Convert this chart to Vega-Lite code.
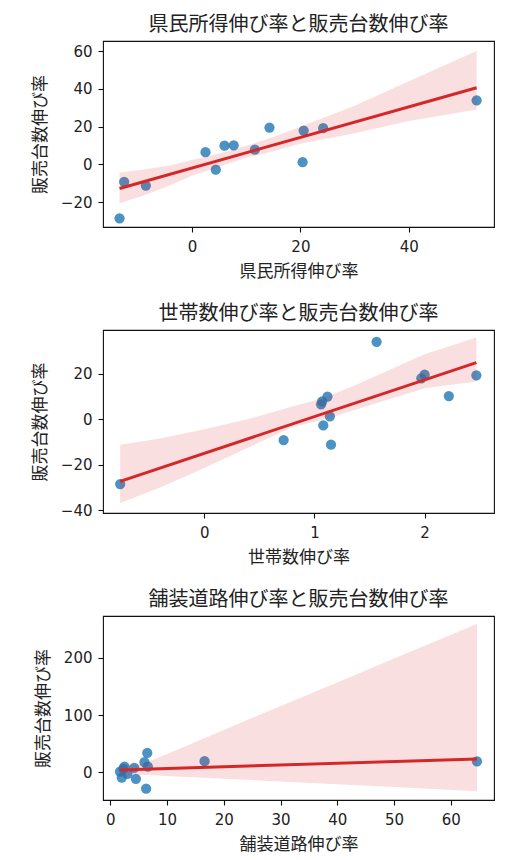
{
  "$schema": "https://vega.github.io/schema/vega-lite/v6.json",
  "padding": {"left": 30, "top": 14, "right": 5, "bottom": 5},
  "background": "white",
  "datasets": {
    "pts": [
      {"income": -13.35, "households": -0.764, "roads": 6.3, "sales": -28.5},
      {"income": 52.5, "households": 1.564, "roads": 6.5, "sales": 33.9},
      {"income": -12.5, "households": 0.72, "roads": 2.0, "sales": -9.2},
      {"income": -8.5, "households": 1.15, "roads": 4.5, "sales": -11.2},
      {"income": 2.5, "households": 1.06, "roads": 2.3, "sales": 6.5},
      {"income": 4.4, "households": 1.08, "roads": 3.0, "sales": -2.8},
      {"income": 6.0, "households": 1.118, "roads": 6.6, "sales": 9.9},
      {"income": 7.7, "households": 2.22, "roads": 2.5, "sales": 10.1},
      {"income": 11.6, "households": 1.07, "roads": 4.2, "sales": 7.8},
      {"income": 14.3, "households": 2.0, "roads": 16.6, "sales": 19.5},
      {"income": 20.6, "households": 1.97, "roads": 6.0, "sales": 17.9},
      {"income": 20.4, "households": 1.14, "roads": 1.7, "sales": 1.2},
      {"income": 24.2, "households": 2.47, "roads": 64.6, "sales": 19.2}
    ],
    "band1": [
      {"x": -13.35, "lo": -20.5, "hi": -4.3},
      {"x": -8.5, "lo": -16, "hi": -2.6},
      {"x": -4, "lo": -11, "hi": -0.5},
      {"x": 0, "lo": -6, "hi": 2.3},
      {"x": 5, "lo": -1.2, "hi": 5.8},
      {"x": 10, "lo": 3.5, "hi": 9.8},
      {"x": 15, "lo": 7, "hi": 14.5},
      {"x": 20, "lo": 11, "hi": 20},
      {"x": 30, "lo": 16.5, "hi": 31},
      {"x": 40, "lo": 23, "hi": 44},
      {"x": 52.5, "lo": 29, "hi": 60}
    ],
    "line1": [{"x": -13.35, "y": -12.7}, {"x": 52.5, "y": 40.6}],
    "band2": [
      {"x": -0.764, "lo": -36.8, "hi": -11.2},
      {"x": -0.4, "lo": -30, "hi": -8.5},
      {"x": 0, "lo": -21.5, "hi": -4.5},
      {"x": 0.4, "lo": -12.5, "hi": 0},
      {"x": 0.8, "lo": -3.5, "hi": 5.5},
      {"x": 1.1, "lo": 0, "hi": 9.5},
      {"x": 1.4, "lo": 4.5, "hi": 15.5},
      {"x": 1.7, "lo": 9, "hi": 22},
      {"x": 2.0, "lo": 13.5, "hi": 28.5},
      {"x": 2.47, "lo": 16.5, "hi": 35.8}
    ],
    "line2": [{"x": -0.764, "y": -27.3}, {"x": 2.47, "y": 24.8}],
    "band3": [
      {"x": 1.65, "lo": -8, "hi": 14},
      {"x": 4, "lo": -4, "hi": 12},
      {"x": 6.7, "lo": -4.7, "hi": 18.6},
      {"x": 10, "lo": -6.3, "hi": 32},
      {"x": 20, "lo": -11, "hi": 74},
      {"x": 30, "lo": -16, "hi": 116},
      {"x": 40, "lo": -21, "hi": 157},
      {"x": 50, "lo": -25.5, "hi": 199},
      {"x": 64.6, "lo": -33, "hi": 259}
    ],
    "line3": [{"x": 1.65, "y": 4.1}, {"x": 64.6, "y": 23.3}]
  },
  "config": {
    "view": {"stroke": "#111", "strokeWidth": 1.1},
    "font": "Noto Sans CJK JP",
    "title": {"font": "Noto Sans CJK JP", "fontSize": 20, "fontWeight": "normal", "color": "#222", "offset": 6},
    "axis": {
      "domain": false, "grid": false,
      "tickColor": "#111", "tickSize": 5, "tickWidth": 1.1,
      "labelFont": "DejaVu Sans", "labelFontSize": 15, "labelColor": "#222", "labelPadding": 6,
      "titleFont": "Noto Sans CJK JP", "titleFontSize": 17, "titleFontWeight": "normal", "titleColor": "#222"
    },
    "axisX": {"titlePadding": 9, "labelPadding": 7},
    "axisY": {"titlePadding": 11}
  },
  "spacing": 23,
  "vconcat": [
    {
      "title": "県民所得伸び率と販売台数伸び率",
      "width": 391, "height": 186,
      "layer": [
        {
          "data": {"name": "pts"},
          "mark": {"type": "circle", "size": 105, "color": "#1f77b4", "opacity": 0.8},
          "encoding": {
            "x": {"field": "income", "type": "quantitative", "title": "県民所得伸び率", "scale": {"domain": [-16.4, 55.7], "nice": false, "zero": false}, "axis": {"values": [0, 20, 40], "format": "d"}},
            "y": {"field": "sales", "type": "quantitative", "title": "販売台数伸び率", "scale": {"domain": [-33.1, 65.3], "nice": false, "zero": false}, "axis": {"values": [-20, 0, 20, 40, 60], "format": "d"}}
          }
        },
        {
          "data": {"name": "band1"},
          "mark": {"type": "area", "color": "#d62728", "opacity": 0.15},
          "encoding": {
            "x": {"field": "x", "type": "quantitative"},
            "y": {"field": "lo", "type": "quantitative"},
            "y2": {"field": "hi"}
          }
        },
        {
          "data": {"name": "line1"},
          "mark": {"type": "line", "color": "#d62728", "strokeWidth": 3},
          "encoding": {
            "x": {"field": "x", "type": "quantitative"},
            "y": {"field": "y", "type": "quantitative"}
          }
        }
      ]
    },
    {
      "title": "世帯数伸び率と販売台数伸び率",
      "width": 391, "height": 183,
      "layer": [
        {
          "data": {"name": "pts"},
          "mark": {"type": "circle", "size": 105, "color": "#1f77b4", "opacity": 0.8},
          "encoding": {
            "x": {"field": "households", "type": "quantitative", "title": "世帯数伸び率", "scale": {"domain": [-0.92, 2.63], "nice": false, "zero": false}, "axis": {"values": [0, 1, 2], "format": "d"}},
            "y": {"field": "sales", "type": "quantitative", "title": "販売台数伸び率", "scale": {"domain": [-41.2, 39.1], "nice": false, "zero": false}, "axis": {"values": [-40, -20, 0, 20], "format": "d"}}
          }
        },
        {
          "data": {"name": "band2"},
          "mark": {"type": "area", "color": "#d62728", "opacity": 0.15},
          "encoding": {
            "x": {"field": "x", "type": "quantitative"},
            "y": {"field": "lo", "type": "quantitative"},
            "y2": {"field": "hi"}
          }
        },
        {
          "data": {"name": "line2"},
          "mark": {"type": "line", "color": "#d62728", "strokeWidth": 3},
          "encoding": {
            "x": {"field": "x", "type": "quantitative"},
            "y": {"field": "y", "type": "quantitative"}
          }
        }
      ]
    },
    {
      "title": "舗装道路伸び率と販売台数伸び率",
      "width": 391, "height": 184,
      "layer": [
        {
          "data": {"name": "pts"},
          "mark": {"type": "circle", "size": 105, "color": "#1f77b4", "opacity": 0.8},
          "encoding": {
            "x": {"field": "roads", "type": "quantitative", "title": "舗装道路伸び率", "scale": {"domain": [-1.3, 67.6], "nice": false, "zero": false}, "axis": {"values": [0, 10, 20, 30, 40, 50, 60], "format": "d"}},
            "y": {"field": "sales", "type": "quantitative", "title": "販売台数伸び率", "scale": {"domain": [-48.3, 273], "nice": false, "zero": false}, "axis": {"values": [0, 100, 200], "format": "d"}}
          }
        },
        {
          "data": {"name": "band3"},
          "mark": {"type": "area", "color": "#d62728", "opacity": 0.15},
          "encoding": {
            "x": {"field": "x", "type": "quantitative"},
            "y": {"field": "lo", "type": "quantitative"},
            "y2": {"field": "hi"}
          }
        },
        {
          "data": {"name": "line3"},
          "mark": {"type": "line", "color": "#d62728", "strokeWidth": 3},
          "encoding": {
            "x": {"field": "x", "type": "quantitative"},
            "y": {"field": "y", "type": "quantitative"}
          }
        }
      ]
    }
  ]
}
